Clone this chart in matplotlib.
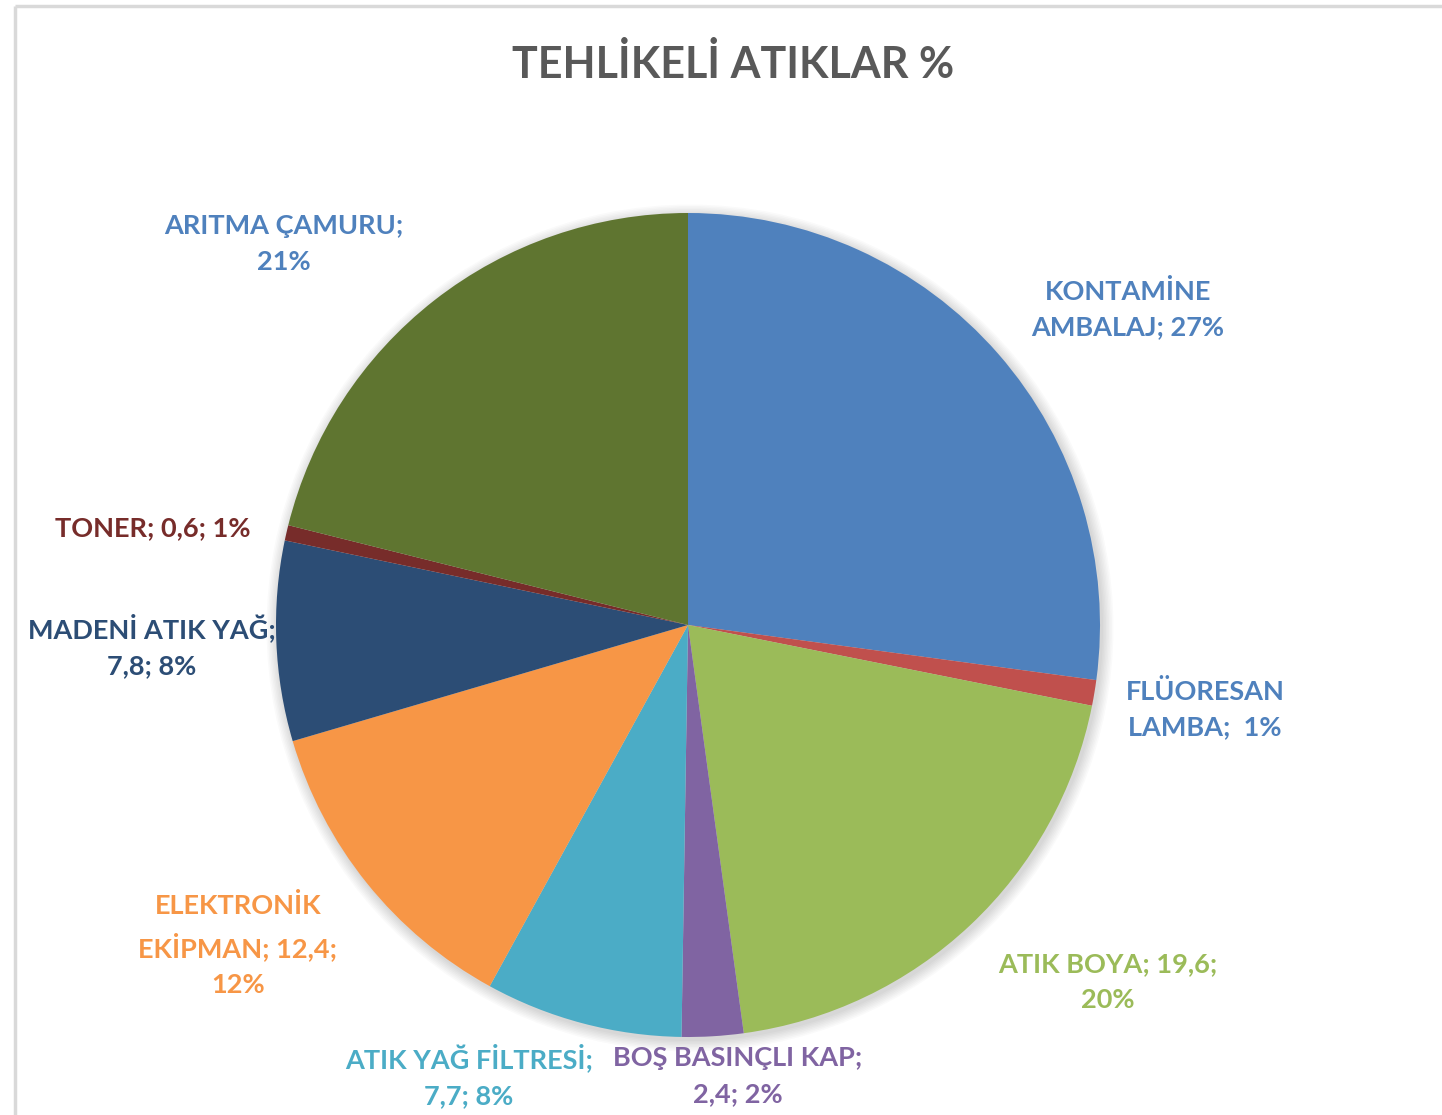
import matplotlib.pyplot as plt
from matplotlib.patches import Circle

# data (clockwise from 12 o'clock)
categories = ["KONTAMİNE AMBALAJ", "FLÜORESAN LAMBA", "ATIK BOYA", "BOŞ BASINÇLI KAP",
              "ATIK YAĞ FİLTRESİ", "ELEKTRONİK EKİPMAN", "MADENİ ATIK YAĞ", "TONER",
              "ARITMA ÇAMURU"]
values = [27, 1, 19.6, 2.4, 7.7, 12.4, 7.8, 0.6, 21]
label_texts = ["KONTAMİNE\nAMBALAJ; 27%", "FLÜORESAN\nLAMBA;  1%", "ATIK BOYA; 19,6;\n20%",
               "BOŞ BASINÇLI KAP;\n2,4; 2%", "ATIK YAĞ FİLTRESİ;\n7,7; 8%",
               "ELEKTRONİK\nEKİPMAN; 12,4;\n12%", "MADENİ ATIK YAĞ;\n7,8; 8%",
               "TONER; 0,6; 1%", "ARITMA ÇAMURU;\n21%"]
colors = ["#4F81BD", "#C0504D", "#9BBB59", "#8064A2", "#4BACC6",
          "#F79646", "#2C4D75", "#772C2A", "#5F7530"]
label_colors = ["#4F81BD", "#4F81BD", "#9BBB59", "#8064A2", "#4BACC6",
                "#F79646", "#2C4D75", "#772C2A", "#4F81BD"]

# label centres in pixel coords (from top-left)
label_pos = [(1128, 309), (1205, 709), (1108, 982), (738, 1076), (469, 1076),
             (238, 945), (152, 646), (153, 528), (284, 244)]

W, H = 1442, 1115
plt.rcParams['font.family'] = ['Lato', 'DejaVu Sans']

fig = plt.figure(figsize=(W / 100, H / 100), dpi=100)
ax = fig.add_axes([0, 0, 1, 1])

cx, cy, r = 688, H - 625, 412

# soft shadow
for i in range(8):
    ax.add_patch(Circle((cx + 2, cy - 3), r + 1 + i * 1.5, color='#000000',
                        alpha=0.018, lw=0, zorder=1))

ax.pie(values, colors=colors, startangle=90, counterclock=False,
       center=(cx, cy), radius=r, frame=True,
       wedgeprops=dict(linewidth=0, zorder=2))
ax.set_xlim(0, W)
ax.set_ylim(0, H)
ax.set_aspect('equal')
ax.axis('off')

for txt, c, (x, y) in zip(label_texts, label_colors, label_pos):
    ax.text(x, H - y, txt, color=c, fontsize=19.5, fontweight='bold',
            ha='center', va='center', multialignment='center', linespacing=1.6)

ax.text(733, H - 65, "TEHLİKELİ ATIKLAR %", color='#595959', fontsize=31,
        fontweight='bold', ha='center', va='center')

# frame lines (top and left)
ax.plot([15, W], [H - 6, H - 6], color='#D9D9D9', lw=2.5, solid_capstyle='butt')
ax.plot([15, 15], [0, H - 6], color='#D9D9D9', lw=2.5, solid_capstyle='butt')

fig.savefig("out.png", dpi=100, facecolor='white')
